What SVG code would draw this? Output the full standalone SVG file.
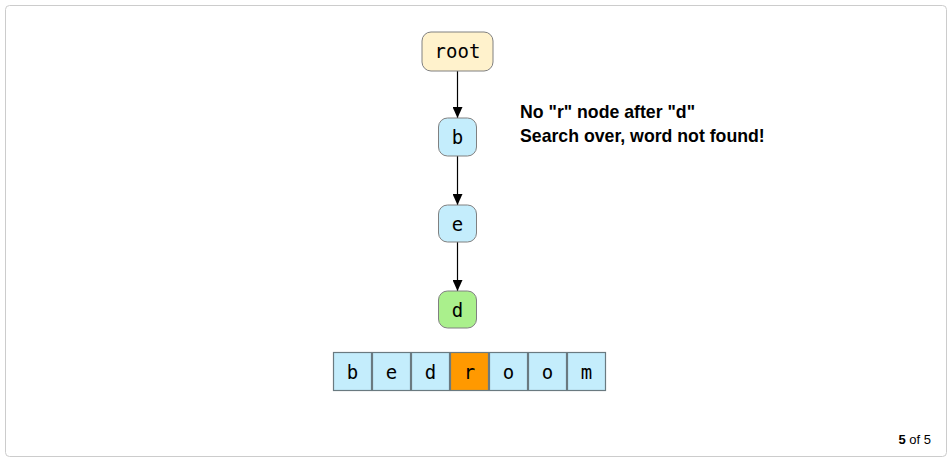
<svg xmlns="http://www.w3.org/2000/svg" width="952" height="461" viewBox="0 0 952 461">
<style>
.frame{fill:#fff;stroke:#cccccc;stroke-width:1}
.node rect{stroke:#808080;stroke-width:1}
.lbl{font-family:"DejaVu Sans Mono","Liberation Mono",monospace;font-size:19px;fill:#000;text-anchor:middle;dominant-baseline:central}
.cell{stroke:#6a7a80;stroke-width:1.2}
.edge{stroke:#000;stroke-width:1.2;fill:none;marker-end:url(#arr)}
.msg{font-family:"Liberation Sans",Arial,sans-serif;font-size:17.7px;font-weight:bold;fill:#000}
.pg{font-family:"Liberation Sans",Arial,sans-serif;font-size:13px;fill:#000}
</style>
<defs>
<marker id="arr" viewBox="0 0 10 10" refX="10" refY="5" markerWidth="11" markerHeight="10" markerUnits="userSpaceOnUse" orient="auto" preserveAspectRatio="none">
<path d="M0,0 L10,5 L0,10 z" fill="#000"/>
</marker>
</defs>
<rect class="frame" x="5.5" y="5.5" width="941" height="451" rx="4"/>
<g id="connectors">
<line class="edge" x1="457.5" y1="71" x2="457.5" y2="118"/>
<line class="edge" x1="457.5" y1="156" x2="457.5" y2="205"/>
<line class="edge" x1="457.5" y1="242" x2="457.5" y2="291"/>
</g>
<g id="node-root" class="node">
<rect x="422" y="32" width="71" height="39" rx="9" fill="#fff2cc"/>
<text class="lbl" x="457.5" y="51">root</text>
</g>
<g id="node-b" class="node">
<rect x="438.5" y="118" width="38" height="38" rx="9" fill="#c4edfc"/>
<text class="lbl" x="457.5" y="137">b</text>
</g>
<g id="node-e" class="node">
<rect x="438.5" y="205" width="38" height="37" rx="9" fill="#c4edfc"/>
<text class="lbl" x="457.5" y="223.5">e</text>
</g>
<g id="node-d" class="node">
<rect x="438.5" y="291" width="38" height="37" rx="9" fill="#aaf08c"/>
<text class="lbl" x="457.5" y="309.5">d</text>
</g>
<g id="word">
<rect class="cell" x="333.5" y="352.5" width="38" height="38" fill="#c4edfc"/>
<text class="lbl" x="352.5" y="371.5">b</text>
<rect class="cell" x="372.5" y="352.5" width="38" height="38" fill="#c4edfc"/>
<text class="lbl" x="391.5" y="371.5">e</text>
<rect class="cell" x="411.5" y="352.5" width="38" height="38" fill="#c4edfc"/>
<text class="lbl" x="430.5" y="371.5">d</text>
<rect class="cell" x="450.5" y="352.5" width="38" height="38" fill="#ff9900"/>
<text class="lbl" x="469.5" y="371.5">r</text>
<rect class="cell" x="489.5" y="352.5" width="38" height="38" fill="#c4edfc"/>
<text class="lbl" x="508.5" y="371.5">o</text>
<rect class="cell" x="528.5" y="352.5" width="38" height="38" fill="#c4edfc"/>
<text class="lbl" x="547.5" y="371.5">o</text>
<rect class="cell" x="567.5" y="352.5" width="38" height="38" fill="#c4edfc"/>
<text class="lbl" x="586.5" y="371.5">m</text>
</g>
<g id="message">
<text class="msg" x="520" y="118">No "r" node after "d"</text>
<text class="msg" x="520" y="142">Search over, word not found!</text>
</g>
<text class="pg" x="931" y="444" text-anchor="end"><tspan font-weight="bold">5</tspan> of 5</text>
</svg>
